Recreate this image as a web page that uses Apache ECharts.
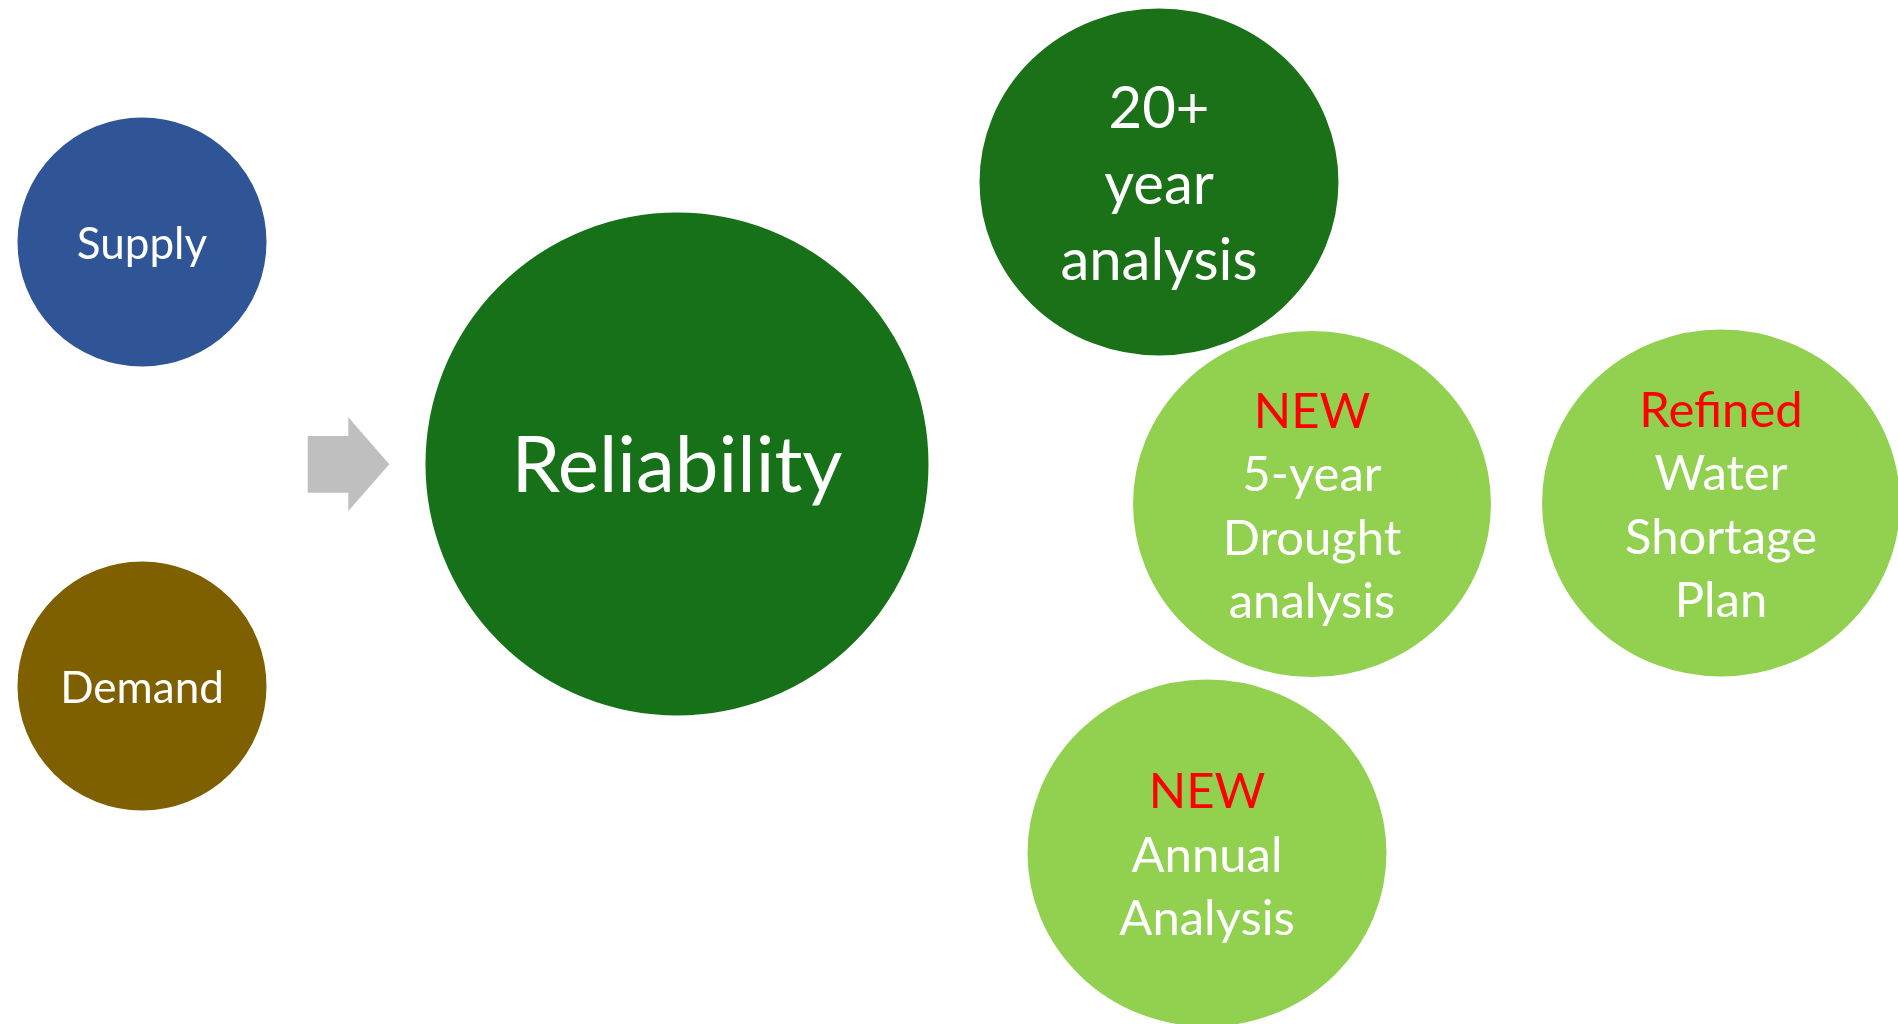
<!DOCTYPE html>
<html>
<head>
<meta charset="utf-8">
<script src="https://cdn.jsdelivr.net/npm/echarts@6/dist/echarts.min.js"></script>
<style>
html,body{margin:0;padding:0;background:#ffffff;}
#chart{width:1898px;height:1024px;}
</style>
</head>
<body>
<div id="chart"></div>
<script>
// Node data (diagram positions in page pixel units)
const nodeNames = ['Supply', 'Demand', 'Reliability', '20+ year analysis', 'NEW 5-year Drought analysis', 'Refined Water Shortage Plan', 'NEW Annual Analysis'];
const nodeX = [142, 142, 677, 1159, 1312, 1721, 1207];
const nodeY = [242, 686, 464, 182, 504, 503, 853];
const nodeW = [252, 252, 506, 362, 361, 361, 362];
const nodeH = [252, 252, 506, 350, 349, 350, 350];
const nodeTags = ['', '', '', '', 'NEW', 'Refined', 'NEW'];
const nodeLines = [['Supply'], ['Demand'], ['Reliability'], ['20+', 'year', 'analysis'], ['5-year', 'Drought', 'analysis'], ['Water', 'Shortage', 'Plan'], ['Annual', 'Analysis']];
const nodeColors = ['#2F5597', '#7F6000', '#177118', '#1B7117', '#92D050', '#92D050', '#92D050'];
const nodeStyle = ['small', 'small', 'big', 'mid', 'std', 'std', 'std'];

const arrowX = [348.5];
const arrowY = [464.2];

const FONT = 'Lato';
const styles = {
  small: {fontSize: 44, lineHeight: 60},
  big: {fontSize: 78, lineHeight: 90},
  mid: {fontSize: 58, lineHeight: 76},
  std: {fontSize: 49, lineHeight: 63.5}
};

const data = nodeNames.map((n, i) => {
  const st = styles[nodeStyle[i]];
  const parts = [];
  if (nodeTags[i]) parts.push('{r|' + nodeTags[i] + '}');
  nodeLines[i].forEach(l => parts.push('{w|' + l + '}'));
  return {
    name: n,
    value: [nodeX[i], nodeY[i]],
    symbolSize: [nodeW[i], nodeH[i]],
    itemStyle: {color: nodeColors[i], borderColor: '#ffffff', borderWidth: 3, opacity: 1},
    label: {
      show: true,
      position: 'inside',
      offset: [0, 3],
      formatter: parts.join('\n'),
      rich: {
        w: {color: '#ffffff', fontFamily: FONT, fontSize: st.fontSize, lineHeight: st.lineHeight},
        r: {color: '#FF0000', fontFamily: FONT, fontSize: st.fontSize, lineHeight: st.lineHeight}
      }
    }
  };
});

const chart = echarts.init(document.getElementById('chart'));
chart.setOption({
  backgroundColor: '#ffffff',
  animation: false,
  grid: {left: 0, right: 0, top: 0, bottom: 0},
  xAxis: {type: 'value', min: 0, max: 1898, show: false},
  yAxis: {type: 'value', min: 0, max: 1024, inverse: true, show: false},
  series: [
    {
      type: 'scatter',
      clip: false,
      symbol: 'circle',
      itemStyle: {opacity: 1},
      data: data,
      emphasis: {disabled: true}
    },
    {
      type: 'scatter',
      clip: false,
      symbol: 'path://M0,18.7 L40.6,18.7 L40.6,0 L81.6,46.85 L40.6,93.7 L40.6,75.4 L0,75.4 Z',
      symbolSize: [81.6, 93.7],
      itemStyle: {color: '#BFBFBF', opacity: 1},
      data: arrowX.map((x, i) => [x, arrowY[i]]),
      emphasis: {disabled: true}
    }
  ]
});
</script>
</body>
</html>
